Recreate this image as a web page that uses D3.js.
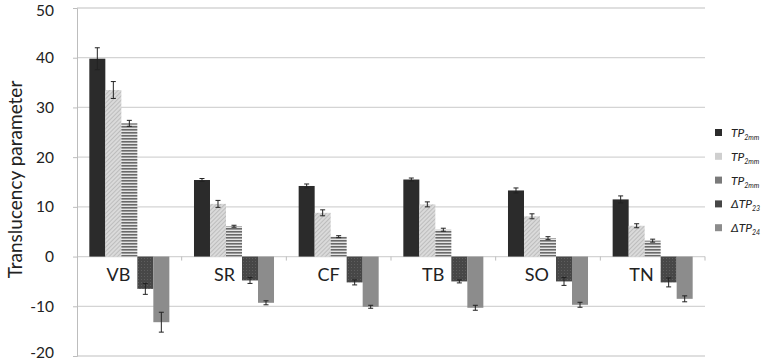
<!DOCTYPE html>
<html>
<head>
<meta charset="utf-8">
<script src="https://cdn.jsdelivr.net/npm/d3@7"></script>
<style>
  body { margin: 0; background: #fff; }
  text { font-family: Lato, "Open Sans", sans-serif; fill: #222; }
</style>
</head>
<body>
<div id="chart"></div>
<script>
const categories = ["VB", "SR", "CF", "TB", "SO", "TN"];
const seriesNames = ["TP1", "TP2", "TP3", "dTP23", "dTP24"];
const tp1 = [39.8, 15.4, 14.2, 15.5, 13.3, 11.5];
const tp1Err = [2.2, 0.3, 0.4, 0.3, 0.5, 0.7];
const tp2 = [33.5, 10.6, 8.8, 10.5, 8.1, 6.2];
const tp2Err = [1.7, 0.7, 0.6, 0.5, 0.5, 0.4];
const tp3 = [26.8, 6.1, 4.0, 5.4, 3.7, 3.2];
const tp3Err = [0.6, 0.2, 0.2, 0.3, 0.3, 0.3];
const dtp23 = [-6.5, -4.8, -5.2, -5.0, -5.0, -5.2];
const dtp23Err = [1.1, 0.6, 0.5, 0.3, 0.8, 0.9];
const dtp24 = [-13.2, -9.3, -10.1, -10.3, -9.7, -8.5];
const dtp24Err = [2.0, 0.4, 0.3, 0.5, 0.5, 0.6];
const yTicks = [-20, -10, 0, 10, 20, 30, 40, 50];

const values = [tp1, tp2, tp3, dtp23, dtp24];
const errors = [tp1Err, tp2Err, tp3Err, dtp23Err, dtp24Err];
const fills = ["#2b2b2b", "url(#hatch)", "url(#stripes)", "url(#dots)", "#8c8c8c"];

let width = 762, height = 364;
let margin = { left: 77, right: 57, top: 8, bottom: 8 };

let svg = d3.select("#chart")
  .append("svg")
    .attr("width", width)
    .attr("height", height);

// patterns
let defs = svg.append("defs");
let hatch = defs.append("pattern").attr("id", "hatch")
  .attr("patternUnits", "userSpaceOnUse").attr("width", 3).attr("height", 3)
  .attr("patternTransform", "rotate(45)");
hatch.append("rect").attr("width", 3).attr("height", 3).attr("fill", "#dadada");
hatch.append("rect").attr("width", 1).attr("height", 3).attr("fill", "#bdbdbd");

let stripes = defs.append("pattern").attr("id", "stripes")
  .attr("patternUnits", "userSpaceOnUse").attr("width", 4).attr("height", 3);
stripes.append("rect").attr("width", 4).attr("height", 3).attr("fill", "#e4e4e4");
stripes.append("rect").attr("width", 4).attr("height", 1.6).attr("fill", "#6a6a6a");

let dots = defs.append("pattern").attr("id", "dots")
  .attr("patternUnits", "userSpaceOnUse").attr("width", 3).attr("height", 3);
dots.append("rect").attr("width", 3).attr("height", 3).attr("fill", "#474747");
dots.append("rect").attr("width", 1).attr("height", 1).attr("fill", "#5e5e5e");

let x = d3.scaleBand()
  .domain(categories)
  .range([margin.left, width - margin.right]);

let xs = d3.scaleBand()
  .domain(seriesNames)
  .range([0, x.bandwidth()])
  .paddingOuter(0.77);

let y = d3.scaleLinear()
  .domain([-20, 50])
  .range([height - margin.bottom, margin.top]);

// gridlines
svg.append("g")
  .selectAll("line")
  .data(yTicks)
  .enter()
  .append("line")
    .attr("x1", margin.left)
    .attr("x2", width - margin.right)
    .attr("y1", d => y(d))
    .attr("y2", d => y(d))
    .attr("stroke", "#d4d4d4")
    .attr("stroke-width", 1.3);

// y axis
let yAxis = svg.append("g")
  .attr("transform", "translate(" + margin.left + ",0)")
  .call(d3.axisLeft(y).tickValues(yTicks).tickSize(4).tickPadding(19)
    .tickFormat(d => String(d)));
yAxis.selectAll("path, line").attr("stroke", "#bdbdbd");
yAxis.selectAll("text").attr("font-size", 15.5).attr("fill", "#222")
  .attr("font-family", "Lato, sans-serif");
yAxis.selectAll(".tick text").filter(d => d === -20).attr("dy", "0.1em");
yAxis.selectAll(".tick text").filter(d => d === 50).attr("dy", "0.48em");

// category ticks on zero line
svg.append("g")
  .selectAll("line")
  .data(categories.slice(1).concat(["end"]))
  .enter()
  .append("line")
    .attr("x1", (d, i) => x.range()[0] + x.step() * (i + 1))
    .attr("x2", (d, i) => x.range()[0] + x.step() * (i + 1))
    .attr("y1", y(0))
    .attr("y2", y(0) + 4)
    .attr("stroke", "#bdbdbd");

// bars
seriesNames.forEach((s, si) => {
  let g = svg.append("g");
  g.selectAll("rect")
    .data(categories)
    .enter()
    .append("rect")
      .attr("x", (d, i) => x(d) + xs(s))
      .attr("width", xs.bandwidth())
      .attr("y", (d, i) => y(Math.max(0, values[si][i])))
      .attr("height", (d, i) => Math.abs(y(values[si][i]) - y(0)))
      .attr("fill", fills[si]);

  // error bars
  let eg = svg.append("g").attr("stroke", "#222").attr("stroke-width", 1);
  categories.forEach((c, i) => {
    let cx = x(c) + xs(s) + xs.bandwidth() / 2;
    let v = values[si][i], e = errors[si][i];
    eg.append("line").attr("x1", cx).attr("x2", cx).attr("y1", y(v - e)).attr("y2", y(v + e));
    eg.append("line").attr("x1", cx - 2.5).attr("x2", cx + 2.5).attr("y1", y(v - e)).attr("y2", y(v - e));
    eg.append("line").attr("x1", cx - 2.5).attr("x2", cx + 2.5).attr("y1", y(v + e)).attr("y2", y(v + e));
  });
});

// category labels
svg.append("g")
  .selectAll("text")
  .data(categories)
  .enter()
  .append("text")
    .attr("x", d => x(d) + x.bandwidth() / 2 + 1)
    .attr("y", y(0) + 24)
    .attr("text-anchor", "end")
    .attr("font-size", 18)
    .text(d => d);

// y title
svg.append("text")
  .attr("transform", "translate(22," + y(15.5) + ") rotate(-90)")
  .attr("text-anchor", "middle")
  .attr("font-size", 19)
  .text("Translucency parameter");

// legend
const legendMain = ["TP", "TP", "TP", "ΔTP", "ΔTP"];
const legendSub = ["2mm", "2mm", "2mm", "23", "24"];
const legendFills = ["#2b2b2b", "#cfcfcf", "#7a7a7a", "#474747", "#8c8c8c"];
let legend = svg.append("g");
seriesNames.forEach((s, i) => {
  let ly = 133 + i * 23.8;
  legend.append("rect")
    .attr("x", 715).attr("y", ly - 4).attr("width", 7).attr("height", 7)
    .attr("fill", legendFills[i]);
  let t = legend.append("text")
    .attr("x", 731).attr("y", ly + 4)
    .attr("font-size", 12)
    .attr("font-style", "italic");
  t.append("tspan").text(legendMain[i]);
  t.append("tspan").attr("font-size", 7).attr("dy", 3).text(legendSub[i]);
});
</script>
</body>
</html>
